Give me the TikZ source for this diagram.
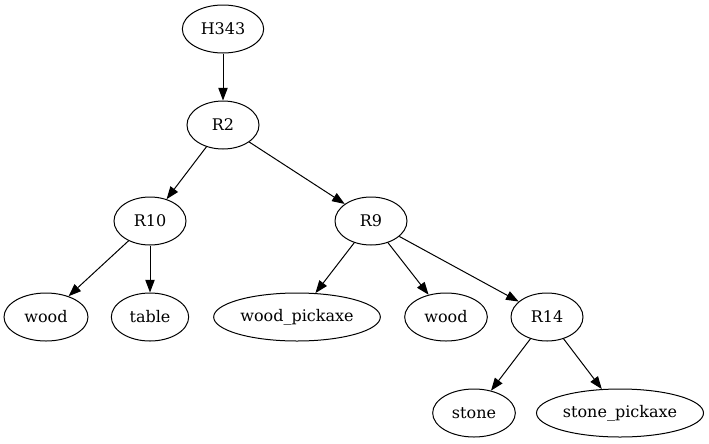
\documentclass[tikz,border=0pt]{standalone}
\usepackage{fontspec}
\setmainfont{DejaVu Serif}
\usetikzlibrary{shapes.geometric,arrows.meta}

\tikzset{
  px/.style={x=0.75pt,y=-0.75pt},
  item/.style={draw, ellipse, line width=0.75pt, inner xsep=1.5pt, inner ysep=0pt,
    minimum width=54pt, minimum height=36pt, font=\fontsize{12}{14}\selectfont},
  edge/.style={-{Triangle[length=9.5pt,width=7pt]}, line width=0.75pt}
}

\begin{document}
\begin{tikzpicture}[px]
\useasboundingbox (0,0) rectangle (709,443);

\node[item, minimum width=61pt] (H343) at (223,29) {H343};
\node[item] (R2) at (223,125) {R2};
\node[item] (R10) at (150,221) {R10};
\node[item] (R9) at (371,221) {R9};

\node[item, minimum width=63pt] (wood1) at (46,317) {wood};
\node[item, minimum width=58pt] (table) at (150,317) {table};
\node[item, minimum width=125pt] (woodpickaxe) at (297,317) {wood\_pickaxe};
\node[item, minimum width=62pt] (wood2) at (446,317) {wood};
\node[item] (R14) at (547,317) {R14};

\node[item, minimum width=62pt] (stone) at (474,413) {stone};
\node[item, minimum width=124pt] (stonepickaxe) at (620,413) {stone\_pickaxe};

\draw[edge] (H343) -- (R2);
\draw[edge] (R2) -- (R10);
\draw[edge] (R2) -- (R9);
\draw[edge] (R10) -- (wood1);
\draw[edge] (R10) -- (table);
\draw[edge] (R9) -- (woodpickaxe);
\draw[edge] (R9) -- (wood2);
\draw[edge] (R9) -- (R14);
\draw[edge] (R14) -- (stone);
\draw[edge] (R14) -- (stonepickaxe);

\end{tikzpicture}
\end{document}
